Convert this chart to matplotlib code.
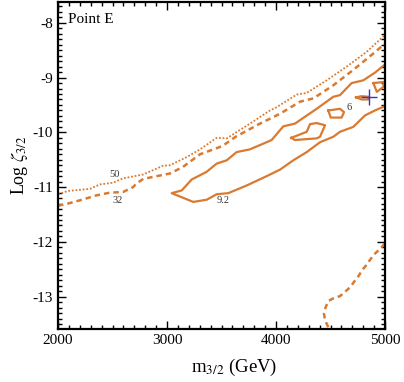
import numpy as np
import matplotlib
matplotlib.use("Agg")
import matplotlib.pyplot as plt
from matplotlib.ticker import MultipleLocator

# contour traces (m_3/2 in GeV, log zeta)
dot50_x = [2000, 2090, 2202, 2294, 2385, 2505, 2596, 2780, 2963, 3028, 3183, 3303,
           3456, 3548, 3761, 3945, 4006, 4190, 4282, 4465, 4648, 4832, 5000]
dot50_y = [-11.13, -11.07, -11.05, -11.03, -10.95, -10.92, -10.84, -10.77, -10.61, -10.60,
           -10.45, -10.31, -10.10, -10.11, -9.84, -9.60, -9.54, -9.31, -9.28, -9.05,
           -8.80, -8.53, -8.22]

dash32_x = [2000, 2090, 2202, 2355, 2477, 2596, 2688, 2722, 2782, 3028, 3147, 3303,
            3508, 3630, 3853, 4037, 4220, 4343, 4526, 4709, 4893, 5000]
dash32_y = [-11.34, -11.30, -11.24, -11.15, -11.10, -11.09, -11.00, -10.93, -10.85,
            -10.75, -10.63, -10.40, -10.25, -10.08, -9.84, -9.66, -9.44, -9.38, -9.14,
            -8.86, -8.56, -8.38]

# 9.2 contour: upper branch from right edge to the tip, then lower branch back
sol92_x = [5000, 4908, 4801, 4694, 4587, 4526, 4373, 4174, 4067, 3960, 3761, 3639,
           3548, 3456, 3364, 3227, 3135, 3043,
           3241, 3364, 3456, 3562, 3731, 3914, 4037, 4159, 4282, 4404, 4526, 4587,
           4709, 4817, 4908, 5000]
sol92_y = [-8.76, -8.91, -9.05, -9.10, -9.32, -9.35, -9.57, -9.84, -9.89, -10.14,
           -10.31, -10.36, -10.51, -10.57, -10.72, -10.86, -11.06, -11.11,
           -11.27, -11.23, -11.13, -11.11, -10.97, -10.80, -10.68, -10.51, -10.36,
           -10.18, -10.08, -9.99, -9.90, -9.69, -9.60, -9.52]

# 6 contour islands
isl1_x = [4140, 4282, 4312, 4373, 4450, 4404, 4373, 4174, 4140]
isl1_y = [-10.10, -9.99, -9.85, -9.83, -9.87, -10.08, -10.11, -10.14, -10.10]
isl2_x = [4480, 4587, 4624, 4602, 4502, 4480]
isl2_y = [-9.60, -9.57, -9.63, -9.73, -9.73, -9.60]
isl3_x = [4734, 4786, 4847, 4847, 4786, 4734]
isl3_y = [-9.36, -9.34, -9.35, -9.40, -9.40, -9.36]
isl4_x = [4893, 4990, 4985, 4925, 4893]
isl4_y = [-9.10, -9.08, -9.17, -9.26, -9.10]

# lower-right dashed contour
low_x = [5000, 4985, 4948, 4899, 4862, 4826, 4789, 4755, 4716, 4679, 4639, 4587,
         4526, 4480, 4456, 4440, 4450, 4480, 4490]
low_y = [-12.03, -12.06, -12.14, -12.23, -12.33, -12.43, -12.52, -12.63, -12.73,
         -12.83, -12.90, -12.99, -13.03, -13.08, -13.19, -13.31, -13.43, -13.56, -13.62]

best_x, best_y = 4853, -9.36

labels = [("50", 2514, -10.77), ("32", 2544, -11.25), ("9.2", 3511, -11.25), ("6", 4667, -9.54)]

plt.rcParams['font.family'] = ['Liberation Serif', 'DejaVu Serif']
plt.rcParams['mathtext.fontset'] = 'stix'
plt.rcParams['axes.unicode_minus'] = False

orange = '#DA7A30'

fig = plt.figure(figsize=(4.04, 3.82), dpi=100)
ax = fig.add_axes([58/404, 1-329/382, (385-58)/404, (329-2)/382])

ax.plot(dot50_x, dot50_y, color=orange, lw=1.3, ls=(0, (1, 1)))
ax.plot(dash32_x, dash32_y, color=orange, lw=1.8, ls=(0, (2.2, 1.6)))
ax.plot(sol92_x, sol92_y, color=orange, lw=1.6)
for xs, ys in [(isl1_x, isl1_y), (isl2_x, isl2_y), (isl3_x, isl3_y), (isl4_x, isl4_y)]:
	ax.plot(xs, ys, color=orange, lw=1.6)
ax.plot(low_x, low_y, color=orange, lw=1.8, ls=(0, (2.2, 1.6)))

ax.plot(best_x, best_y, marker='+', color='#3030E0', ms=11, mew=1.0)

for txt, lx, ly in labels:
	ax.text(lx, ly, txt, fontsize=7.5, color='#333333', ha='center', va='center')

ax.text(0.03, 0.965, 'Point E', transform=ax.transAxes, fontsize=11, va='top', ha='left')

ax.set_xlim(2000, 5000)
ax.set_ylim(-13.59, -7.62)
ax.xaxis.set_major_locator(MultipleLocator(1000))
ax.xaxis.set_minor_locator(MultipleLocator(100))
ax.yaxis.set_major_locator(MultipleLocator(1))
ax.yaxis.set_minor_locator(MultipleLocator(0.1))
ax.tick_params(which='both', direction='in', top=True, right=True, labelsize=11, width=1.0)
ax.tick_params(which='major', length=6)
ax.tick_params(which='minor', length=3)
for s in ax.spines.values():
	s.set_linewidth(1.6)

ax.set_xlabel(r'm$_{3/2}$ (GeV)', fontsize=13.5, labelpad=3)
ax.xaxis.set_label_coords(0.54, -0.085)
ax.set_ylabel(r'Log $\zeta_{3/2}$', fontsize=13, labelpad=2)

fig.savefig('out.png', dpi=100)
